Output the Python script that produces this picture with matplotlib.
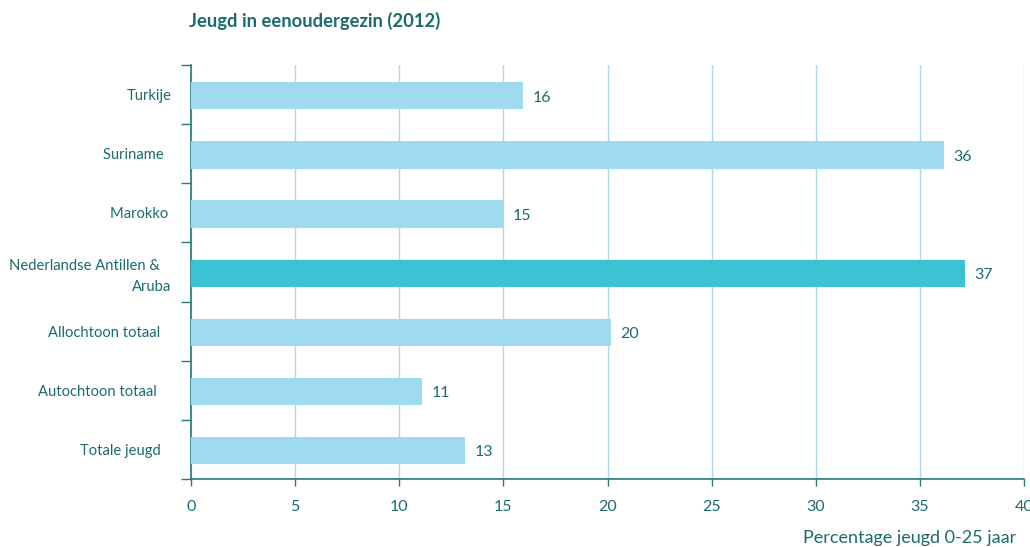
import matplotlib
matplotlib.use("Agg")
import matplotlib.pyplot as plt
import numpy as np

categories = ["Turkije", "Suriname  ", "Marokko ", "Nederlandse Antillen &   \nAruba",
              "Allochtoon totaal   ", "Autochtoon totaal    ", "Totale jeugd   "]
values = [15.95, 36.15, 15.0, 37.15, 20.15, 11.1, 13.15]
labels = ["16", "36", "15", "37", "20", "11", "13"]
highlight = [False, False, False, True, False, False, False]
xticks = [0, 5, 10, 15, 20, 25, 30, 35, 40]

TEXT = "#1b6b6e"
LIGHT = "#9fdaee"
DARK = "#3bc3d4"
GRID = "#a9dce6"
AXIS = "#2a7a7c"

plt.rcParams['font.family'] = ['Lato', 'DejaVu Sans']

fig = plt.figure(figsize=(10.30, 5.47), dpi=100)
ax = fig.add_axes([191/1030, 1-479/547, (1024-191)/1030, (479-65)/547])

n = len(categories)
ypos = np.arange(n)[::-1]
colors = [DARK if h else LIGHT for h in highlight]
ax.barh(ypos - 0.02, values, height=0.46, color=colors, zorder=3)

for y, v, lab in zip(ypos, values, labels):
    ax.text(v + 0.45, y - 0.05, lab, va='center', ha='left', fontsize=11.5, color=TEXT)

ax.set_xlim(0, 40)
ax.set_ylim(-0.5, n - 0.5)
ax.set_xticks(xticks)
ax.set_xticklabels([str(t) for t in xticks], fontsize=11.5, color=TEXT)
ax.tick_params(axis='x', length=5, width=1, color=AXIS, pad=10)

ax.set_yticks(ypos)
ax.set_yticklabels(categories, fontsize=10.6, color=TEXT, ha='right', multialignment='right')
for t in ax.get_yticklabels():
    t.set_linespacing(1.6)
ax.tick_params(axis='y', which='major', length=0, pad=14)
ax.set_yticks(np.arange(-0.5, n, 1.0), minor=True)
ax.tick_params(axis='y', which='minor', length=7, width=1, color=AXIS)

ax.grid(axis='x', color=GRID, linewidth=1, zorder=0)
ax.set_axisbelow(True)
for s in ['top', 'right']:
    ax.spines[s].set_visible(False)
ax.spines['left'].set_color(AXIS)
ax.spines['bottom'].set_color(AXIS)
ax.spines['left'].set_linewidth(1.2)
ax.spines['bottom'].set_linewidth(1.2)

fig.text(189/1030, 1-21/547, "Jeugd in eenoudergezin (2012)", fontsize=13.2,
         fontweight='bold', color=TEXT, ha='left', va='center')
fig.text(1016/1030, 1-538/547, "Percentage jeugd 0-25 jaar", fontsize=13,
         color=TEXT, ha='right', va='center')

fig.savefig("out.png", dpi=100)
